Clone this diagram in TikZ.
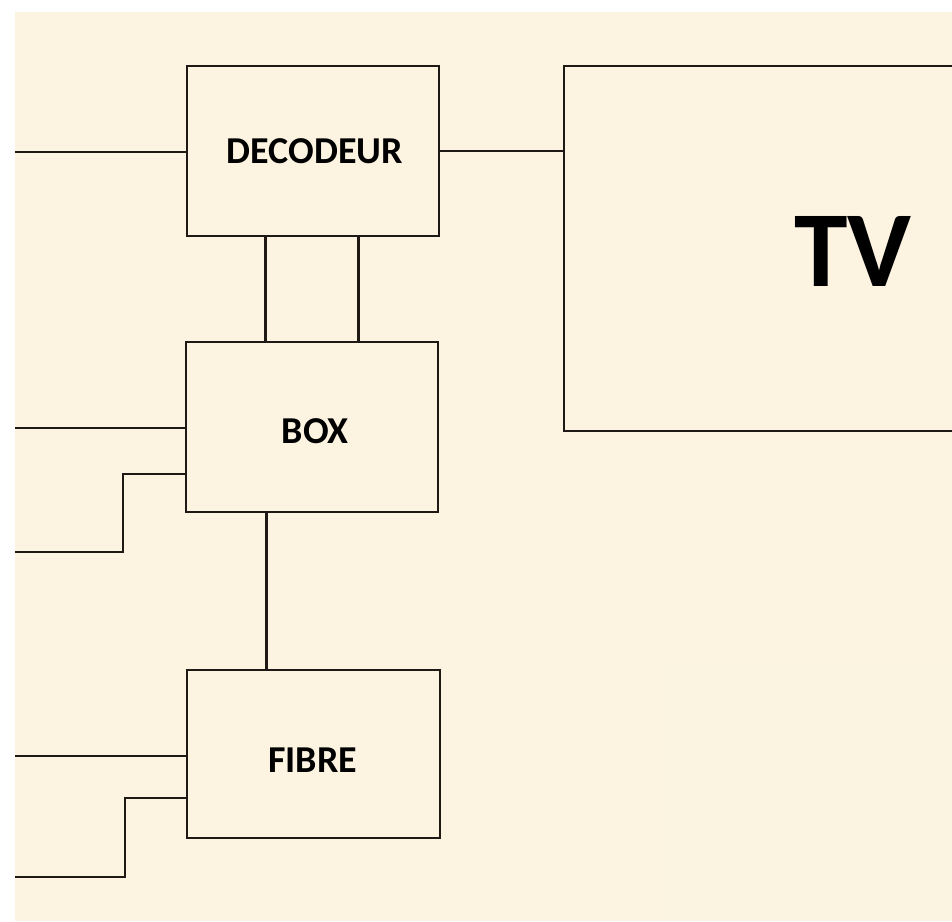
\documentclass[tikz,border=0pt]{standalone}
\usepackage{fontspec}
\setmainfont{Carlito}
\usetikzlibrary{calc}
\definecolor{bg}{HTML}{FDF3E1}
\definecolor{bgtwo}{HTML}{FAF4E0}
\definecolor{ink}{HTML}{1E1914}
\begin{document}
\begin{tikzpicture}[x=1pt,y=-1pt,
  unitbox/.style={draw=ink, line width=2.8pt, minimum width=252pt, minimum height=170pt,
    inner sep=0pt},
  boxlabel/.style={inner sep=0pt, font=\bfseries\fontsize{38}{40}\selectfont, text=black},
  wire/.style={draw=ink, line width=2.8pt}]
\useasboundingbox (0,0) rectangle (952,921);
\fill[white] (0,0) rectangle (952,921);
\fill[bg] (15,12) rectangle (952,921);
\fill[bgtwo] (668,665) rectangle (952,921);

\node[unitbox] (dec) at (313,151) {};
\node[unitbox] (box) at (312,427) {};
\node[unitbox, minimum width=253pt, minimum height=168pt] (fib) at (313.5,754) {};
\node[boxlabel] (declabel) at ([xshift=2pt,yshift=-0.5pt]dec.center) {DECODEUR};
\node[boxlabel] (boxlabel) at ([xshift=3pt,yshift=-4pt]box.center) {BOX};
\node[boxlabel] (fiblabel) at ([xshift=-1pt,yshift=-6pt]fib.center) {FIBRE};

\begin{scope}
\clip (0,0) rectangle (952,921);
\node[draw=ink, line width=2.8pt, minimum width=440pt, minimum height=365pt, inner sep=0pt] (tv) at (784,248.5) {};
\end{scope}
\node[font=\bfseries\fontsize{108}{110}\selectfont, text=black, inner sep=0pt] (tvlabel) at (853,251) {TV};

\coordinate (in1) at (15,152);
\coordinate (in2) at (15,428);
\coordinate (in3) at (15,552);
\coordinate (in4) at (15,756);
\coordinate (in5) at (15,877);

\draw[wire] (in1) -- (in1 -| dec.west);
\draw[wire] (dec.east) -- (dec.east -| tv.west);
\draw[wire] ([xshift=80pt]dec.south west) -- ([xshift=80pt]dec.south west |- box.north);
\draw[wire] ([xshift=173pt]dec.south west) -- ([xshift=173pt]dec.south west |- box.north);
\draw[wire] (in2) -- (in2 -| box.west);
\draw[wire] ($(box.west)+(0,47)$) -| ([xshift=108pt]in3) -- (in3);
\draw[wire] ([xshift=82pt]box.south west) -- ([xshift=82pt]box.south west |- fib.north);
\draw[wire] (in4) -- (in4 -| fib.west);
\draw[wire] ($(fib.west)+(0,44)$) -| ([xshift=110pt]in5) -- (in5);
\end{tikzpicture}
\end{document}
